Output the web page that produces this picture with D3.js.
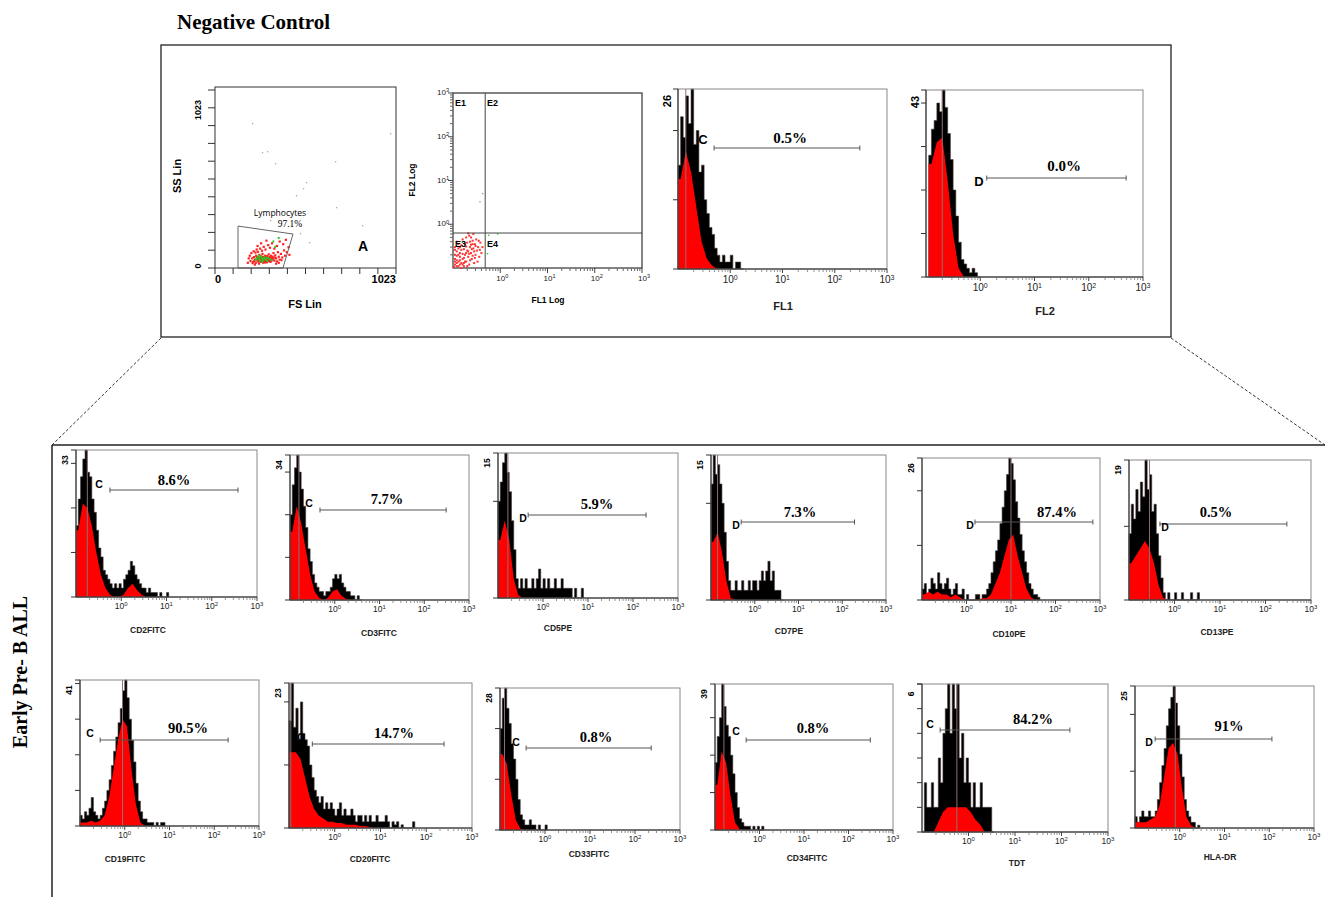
<!DOCTYPE html>
<html>
<head>
<meta charset="utf-8">
<script src="https://cdn.jsdelivr.net/npm/d3@7"></script>
<style>
  body { margin: 0; background: #fff; }
  svg { display: block; }
</style>
</head>
<body>
<script>
// ---- data -------------------------------------------------------------

// scatter FS Lin / SS Lin (channel units 0..1023)
const scatterRed = [
  [200,40],[210,55],[215,35],[220,62],[225,48],[230,30],[232,70],[238,52],[240,40],[245,60],
  [248,25],[250,75],[252,45],[255,58],[258,35],[260,66],[262,50],[265,42],[268,80],[270,55],
  [272,30],[275,62],[278,47],[280,38],[283,70],[285,52],[288,60],[290,44],[293,33],[295,68],
  [298,55],[300,48],[303,78],[305,40],[308,62],[310,52],[313,35],[315,70],[318,58],[320,45],
  [325,65],[328,50],[330,85],[335,42],[338,60],[340,72],[345,55],[350,38],[355,90],[360,64],
  [365,48],[372,80],[380,60],[390,100],[196,70],[205,85],[212,28],[218,95],[228,88],[235,105],
  [242,92],[255,110],[265,98],[275,120],[285,105],[300,130],[310,115],[322,140],[335,110],[350,125],
  [365,150],[385,135],[400,160],[415,118],[290,155],[260,140],[240,125],[225,20],[190,55],[185,30],
  [345,25],[360,30],[375,45],[395,70],[405,90],[420,75],[222,40],[236,62],[246,36],[256,48],
  [266,64],[276,38],[286,44],[296,58],[306,50],[316,40],[326,56],[243,50],[263,57],[283,32]
];
const scatterGreen = [
  [230,45],[240,58],[250,50],[255,40],[260,62],[265,55],[270,45],[275,52],[280,60],[285,48],
  [290,55],[245,65],[268,35],[300,58],[310,50],[320,44],[252,70],[235,52],[295,40],[340,120],
  [360,170],[330,150]
];
const scatterGray = [
  [209,820],[265,656],[294,661],[339,593],[678,604],[457,412],[497,452],[514,486],[684,345],
  [831,243],[531,147],[989,763],[480,198],[311,271]
];
const lymphGate = [[130,237],[441,192],[384,0],[130,0]];

// FL1 Log / FL2 Log dot plot
const dotRed = [
  [0.11,0.12],[0.12,0.15],[0.13,0.11],[0.14,0.18],[0.11,0.2],[0.15,0.13],[0.16,0.16],[0.12,0.24],
  [0.13,0.28],[0.17,0.11],[0.18,0.2],[0.19,0.14],[0.2,0.25],[0.14,0.22],[0.11,0.3],[0.15,0.33],
  [0.21,0.18],[0.22,0.12],[0.23,0.3],[0.24,0.22],[0.25,0.16],[0.18,0.36],[0.27,0.28],[0.28,0.13],
  [0.3,0.2],[0.26,0.42],[0.29,0.35],[0.32,0.25],[0.12,0.4],[0.16,0.45],[0.2,0.38],[0.24,0.5],
  [0.34,0.3],[0.36,0.18],[0.31,0.45],[0.22,0.55],[0.38,0.38],[0.4,0.22],[0.13,0.35],[0.17,0.27],
  [0.19,0.31],[0.11,0.16],[0.14,0.12],[0.16,0.21],[0.21,0.24],[0.23,0.15],[0.26,0.19],[0.12,0.19],
  [0.15,0.26],[0.18,0.14],[0.2,0.11],[0.25,0.27],[0.28,0.24],[0.33,0.14],[0.35,0.42],[0.42,0.3],
  [0.27,0.6],[0.19,0.5],[0.23,0.4],[0.3,0.32],[0.13,0.14],[0.17,0.17],[0.22,0.21],[0.11,0.26],
  [0.14,0.3],[0.24,0.34],[0.29,0.17],[0.37,0.26],[0.21,0.62],[0.26,0.35],[0.105,0.105],[0.12,0.11],
  [0.15,0.1],[0.11,0.14],[0.13,0.2],[0.17,0.13],[0.19,0.22],[0.14,0.15],[0.16,0.12],[0.12,0.13]
];
const dotGreen = [[0.55,0.58],[0.6,0.32],[0.52,0.22],[0.85,0.62]];
const dotBlue = [[0.41,5.2],[0.36,3.4]];
const quadCut = [0.48, 0.63];
const quadLabels = ['E1', 'E2', 'E3', 'E4'];

// histograms: black = raw envelope (bins of 0.05 decade), red = smoothed core (bins of 0.1 decade)
const histNames   = ['FL1','FL2','CD2FITC','CD3FITC','CD5PE','CD7PE','CD10PE','CD13PE',
                     'CD19FITC','CD20FITC','CD33FITC','CD34FITC','TDT','HLA-DR'];
const histMax     = [26,43,33,34,15,15,26,19,41,23,28,39,6,25];
const histPercent = ['0.5%','0.0%','8.6%','7.7%','5.9%','7.3%','87.4%','0.5%',
                     '90.5%','14.7%','0.8%','0.8%','84.2%','91%'];
const histLetter  = ['C','D','C','C','D','D','D','D','C','C','C','C','C','D'];
const histGates   = [[-0.31,2.48],[0.12,2.69],[-0.25,2.58],[-0.33,2.49],[-0.33,2.29],[-0.31,2.28],
                     [0.19,2.84],[-0.32,2.47],[-0.55,2.31],[-0.49,2.39],[-0.42,2.36],[-0.30,2.49],
                     [-0.61,2.18],[-0.55,2.06]];
const histMarker  = [-0.85,-0.7,-0.75,-0.8,-0.78,-0.85,1.0,-0.55,-0.05,-0.96,-0.9,-0.8,-0.25,-0.1];
const histStart   = [-1,-0.95,-1,-1,-1,-1,-1,-1,-1,-1,-1,-1,-1,-1];

const fl1Black  = [15,22,19,25,21,26,18,20,14,15,10,8,6,5,3,2,1,2,1,1,2,0,1,1,0];
const fl1Red    = [13,17,14,9,4,1.5,0.5,0];
const fl2Black  = [28,34,36,40,38,43,39,33,27,20,14,8,4,3,2,1,2,1,0];
const fl2Red    = [26,31,32,22,10,2,0];
const cd2Black  = [16,22,27,31,33,28,27,22,19,15,11,9,6,5,4,3,2,3,2,3,2,4,5,6,8,7,5,4,3,2,2,1,2,1,1,1,0,1,0,0,1];
const cd2Red    = [15,21,20,16,10,5,2,0.5,0,0,0.5,2,3,1.5,0.5,0];
const cd3Black  = [20,27,31,34,30,26,22,17,12,9,6,4,3,2,2,1,2,2,3,5,6,5,6,4,3,2,2,1,1,0,1,0];
const cd3Red    = [16,22,18,12,6,2,0.5,0,0.5,2,2.5,1,0.3,0];
const cd5Black  = [10,12,14,15,13,11,8,5,2,1,2,1,2,1,1,2,1,2,3,1,2,1,2,1,1,2,1,1,2,1,1,1,1,0,1,0,0,1];
const cd5Red    = [6,8,6,2,0.3,0];
const cd7Black  = [12,15,13,14,12,10,7,4,2,1,1,2,1,1,2,1,1,2,1,2,2,1,2,3,2,3,4,2,3,1,1,1,0];
const cd7Red    = [6,7,5,2,0.2,0];
const cd10Black = [2,3,1,2,4,3,2,5,3,2,3,4,2,1,2,3,1,1,2, 0,1,0,0,0,1,1,0,1,
                   1,2,3,5,7,9,11,14,17,20,23,26,25,22,18,15,12,9,7,5,3,2,1,1,0.5];
const cd10Red   = [1,1.5,1,1.5,1,1,0.5,1,0.5,0, 0,0,0,0.3, 0.3,1,3,5,8,11,12,8,5,2,0.5,0];
const cd13Black = [9,13,11,15,12,16,14,19,15,17,12,13,9,6,3,1,0,1,0,0,1,0,0,1,0,0,0,1,0,0,1];
const cd13Red   = [5,6,7,8,7,5,2,0.3,0];
const cd19Black = [3,2,4,3,5,8,4,3,2,3,
                   5,7,10,13,17,21,25,29,33,38,41,36,30,24,18,12,7,4,2,2,1,1,1,0,1,0,1,1];
const cd19Red   = [1,1,1.5,1,1.5,3,8,16,24,30,28,16,6,1,0];
const cd20Black = [17,23,16,19,14,20,15,14,13,10,8,6,5,4,5,3,4,3,4,3,2,3,4,2,3,2,2,3,2,1,
                   2,2,1,2,1,2,1,1,2,1,1,1,2,1,0,1,0.5,1,0,0.5,0,0,0,0,1];
const cd20Red   = [12,12,11,8,5,3,2,1.5,1,1,0.8,0.8,0.5,0.5,0.5,0.3,0.3,0.2,0];
const cd33Black = [20,26,28,24,21,17,14,10,6,3,2,1,1,2,1,1,0,1,0,0,1];
const cd33Red   = [15,13,7,2,0.3,0];
const cd34Black = [18,25,30,39,33,28,25,20,15,10,6,3,2,1,1,1,0,1,0,1,0,1];
const cd34Red   = [12,21,18,9,2,0.3,0];
const tdtBlack  = [0,2,1,1,2,1,1,3,2,4,5,6,4,6,5,6,3,4,2,3,2,1,2,1,1,2,1,1,1,1,0];
const tdtRed    = [0,0,0,0.4,0.8,1,1,1,1,1,0.8,0.5,0.3,0];
const hlaBlack  = [2,1,2,3,2,2,3,2,
                   2,3,5,8,11,14,18,21,23,25,22,18,13,9,5,3,2,1,1,0,0.5];
const hlaRed    = [1,1,1,1.5,2,4,9,14,15,13,7,2,0.5,0];

const histBlack = [fl1Black,fl2Black,cd2Black,cd3Black,cd5Black,cd7Black,cd10Black,cd13Black,
                   cd19Black,cd20Black,cd33Black,cd34Black,tdtBlack,hlaBlack];
const histRed   = [fl1Red,fl2Red,cd2Red,cd3Red,cd5Red,cd7Red,cd10Red,cd13Red,
                   cd19Red,cd20Red,cd33Red,cd34Red,tdtRed,hlaRed];

// ---- layout -----------------------------------------------------------
// box: x0,x1,y0,y1 ; bar: y of gate ; let: letter centre ; pct: percent centre ; lab: axis name centre
const histLayout = [
  {box:[678,887,89,269],  bar:148, let:[703,139],  pct:[790,138],  lab:[783,306],  big:true},
  {box:[926,1143,90,277], bar:178, let:[979,181],  pct:[1064,166], lab:[1045,311], big:true},
  {box:[76,257,450,597],  bar:490, let:[99,484],   pct:[174,480],  lab:[148,629]},
  {box:[290,469,455,600], bar:510, let:[309,503],  pct:[387,499],  lab:[379,632]},
  {box:[498,678,453,598], bar:515, let:[523,518],  pct:[597,504],  lab:[558,627]},
  {box:[711,886,455,600], bar:522, let:[736,525],  pct:[800,512],  lab:[789,630]},
  {box:[922,1100,458,600],bar:522, let:[970,525],  pct:[1057,512], lab:[1009,633]},
  {box:[1129,1311,460,600],bar:524,let:[1165,527], pct:[1216,512], lab:[1217,631]},
  {box:[80,259,680,826],  bar:740, let:[90,733],   pct:[188,728],  lab:[125,858]},
  {box:[289,472,683,828], bar:744, let:[301,737],  pct:[394,733],  lab:[370,858]},
  {box:[500,680,688,830], bar:748, let:[516,742],  pct:[596,737],  lab:[589,853]},
  {box:[715,893,684,830], bar:740, let:[736,731],  pct:[813,728],  lab:[807,857]},
  {box:[922,1108,684,832],bar:730, let:[930,724],  pct:[1033,719], lab:[1017,862]},
  {box:[1135,1314,686,828],bar:739,let:[1149,742], pct:[1229,726], lab:[1220,856]}
];

const SANS = "'Liberation Sans', Arial, sans-serif";
const SERIF = "'Liberation Serif', 'Times New Roman', serif";

const svg = d3.select('body').append('svg')
  .attr('width', 1325)
  .attr('height', 897);

svg.append('rect').attr('width', 1325).attr('height', 897).attr('fill', '#fff');

// ---- frame, title, connectors ------------------------------------------
svg.append('text')
  .attr('x', 177).attr('y', 29)
  .attr('font-family', SERIF).attr('font-weight', 'bold').attr('font-size', 21)
  .text('Negative Control');

svg.append('rect')
  .attr('x', 161).attr('y', 45).attr('width', 1010).attr('height', 292)
  .attr('fill', 'none').attr('stroke', '#222').attr('stroke-width', 1.3);

svg.append('line').attr('x1', 161).attr('y1', 338).attr('x2', 52).attr('y2', 445)
  .attr('stroke', '#333').attr('stroke-dasharray', '3,2');
svg.append('line').attr('x1', 1171).attr('y1', 338).attr('x2', 1325).attr('y2', 445)
  .attr('stroke', '#333').attr('stroke-dasharray', '3,2');

svg.append('line').attr('x1', 52).attr('y1', 445).attr('x2', 1325).attr('y2', 445)
  .attr('stroke', '#222').attr('stroke-width', 1.5);
svg.append('line').attr('x1', 52).attr('y1', 445).attr('x2', 52).attr('y2', 897)
  .attr('stroke', '#222').attr('stroke-width', 1.5);

svg.append('text')
  .attr('transform', 'translate(27,672) rotate(-90)')
  .attr('text-anchor', 'middle')
  .attr('font-family', SERIF).attr('font-weight', 'bold').attr('font-size', 20)
  .text('Early Pre- B ALL');

// helper: 10^n label
function powLabel(sel, n) {
  sel.text('10');
  sel.append('tspan').attr('dy', '-0.45em').attr('font-size', '0.7em').text(n);
}

// ---- scatter FS/SS -------------------------------------------------------
(function () {
  const x = d3.scaleLinear().domain([0, 1023]).range([215, 396]);
  const y = d3.scaleLinear().domain([0, 1023]).range([268, 87]);
  const g = svg.append('g');

  g.append('rect').attr('x', 215).attr('y', 87).attr('width', 181).attr('height', 181)
    .attr('fill', 'none').attr('stroke', '#333').attr('stroke-width', 1);

  d3.range(0, 11).forEach(i => {
    const yy = 268 - i * 17.8;
    g.append('line').attr('x1', 208).attr('x2', 215).attr('y1', yy).attr('y2', yy).attr('stroke', '#333');
    const xx = 215 + i * 18.1;
    g.append('line').attr('x1', xx).attr('x2', xx).attr('y1', 268).attr('y2', 274).attr('stroke', '#333');
  });

  g.selectAll('.gray').data(scatterGray).join('rect')
    .attr('x', d => x(d[0])).attr('y', d => y(d[1])).attr('width', 1.3).attr('height', 1.3)
    .attr('fill', '#aaa');
  g.selectAll('.red').data(scatterRed).join('rect')
    .attr('x', d => x(d[0]) - 1).attr('y', d => y(d[1]) - 1).attr('width', 2.2).attr('height', 2.2)
    .attr('fill', '#f22');
  g.selectAll('.green').data(scatterGreen).join('rect')
    .attr('x', d => x(d[0]) - 1).attr('y', d => y(d[1]) - 1).attr('width', 2).attr('height', 2)
    .attr('fill', '#2c2');

  g.append('polygon')
    .attr('points', lymphGate.map(p => x(p[0]) + ',' + y(p[1])).join(' '))
    .attr('fill', 'none').attr('stroke', '#555').attr('stroke-width', 0.9);

  g.append('text').attr('x', 280).attr('y', 216).attr('text-anchor', 'middle')
    .attr('font-family', "'Open Sans', sans-serif").attr('font-size', 8.5).text('Lymphocytes');
  g.append('text').attr('x', 290).attr('y', 227).attr('text-anchor', 'middle')
    .attr('font-family', SERIF).attr('font-size', 9.5).text('97.1%');
  g.append('text').attr('x', 363).attr('y', 251).attr('text-anchor', 'middle')
    .attr('font-family', SANS).attr('font-weight', 'bold').attr('font-size', 14).text('A');

  g.append('text').attr('transform', 'translate(201,110) rotate(-90)').attr('text-anchor', 'middle')
    .attr('font-family', SANS).attr('font-weight', 'bold').attr('font-size', 9).text('1023');
  g.append('text').attr('transform', 'translate(201,266) rotate(-90)').attr('text-anchor', 'middle')
    .attr('font-family', SANS).attr('font-weight', 'bold').attr('font-size', 9).text('0');
  g.append('text').attr('x', 218).attr('y', 283).attr('text-anchor', 'middle')
    .attr('font-family', SANS).attr('font-weight', 'bold').attr('font-size', 11).text('0');
  g.append('text').attr('x', 396).attr('y', 283).attr('text-anchor', 'end')
    .attr('font-family', SANS).attr('font-weight', 'bold').attr('font-size', 11).text('1023');
  g.append('text').attr('transform', 'translate(181,176) rotate(-90)').attr('text-anchor', 'middle')
    .attr('font-family', SANS).attr('font-weight', 'bold').attr('font-size', 11).text('SS Lin');
  g.append('text').attr('x', 305).attr('y', 308).attr('text-anchor', 'middle')
    .attr('font-family', SANS).attr('font-weight', 'bold').attr('font-size', 11).text('FS Lin');
})();

// ---- FL1 / FL2 dot plot ---------------------------------------------------
(function () {
  const x = d3.scaleLog().domain([0.1, 1000]).range([453, 642]);
  const y = d3.scaleLog().domain([0.1, 1000]).range([268, 93]);
  const g = svg.append('g');

  g.append('rect').attr('x', 453).attr('y', 93).attr('width', 189).attr('height', 175)
    .attr('fill', 'none').attr('stroke', '#333').attr('stroke-width', 1.2);

  const minor = [];
  [0.1, 1, 10, 100].forEach(d => d3.range(2, 10).forEach(k => minor.push(d * k)));
  minor.forEach(v => {
    g.append('line').attr('x1', x(v)).attr('x2', x(v)).attr('y1', 268).attr('y2', 271).attr('stroke', '#666');
    g.append('line').attr('x1', 450).attr('x2', 453).attr('y1', y(v)).attr('y2', y(v)).attr('stroke', '#666');
  });
  [1, 10, 100, 1000].forEach((v, i) => {
    g.append('line').attr('x1', x(v)).attr('x2', x(v)).attr('y1', 268).attr('y2', 273).attr('stroke', '#444');
    g.append('line').attr('x1', 448).attr('x2', 453).attr('y1', y(v)).attr('y2', y(v)).attr('stroke', '#444');
    g.append('text').attr('x', x(v) + 2).attr('y', 281).attr('text-anchor', 'middle')
      .attr('font-family', SANS).attr('font-size', 8).attr('fill', '#222').call(powLabel, i);
    g.append('text').attr('x', 449).attr('y', y(v) + 2).attr('text-anchor', 'end')
      .attr('font-family', SANS).attr('font-size', 8).attr('fill', '#222').call(powLabel, i);
  });

  g.selectAll('.r').data(dotRed).join('rect')
    .attr('x', d => x(d[0]) - 1).attr('y', d => y(d[1]) - 1).attr('width', 2).attr('height', 2)
    .attr('fill', '#f33');
  g.selectAll('.gr').data(dotGreen).join('rect')
    .attr('x', d => x(d[0])).attr('y', d => y(d[1])).attr('width', 1.4).attr('height', 1.4)
    .attr('fill', '#3c3');
  g.selectAll('.b').data(dotBlue).join('rect')
    .attr('x', d => x(d[0])).attr('y', d => y(d[1])).attr('width', 1.4).attr('height', 1.4)
    .attr('fill', '#99c');

  g.append('line').attr('x1', x(quadCut[0])).attr('x2', x(quadCut[0])).attr('y1', 93).attr('y2', 268)
    .attr('stroke', '#444');
  g.append('line').attr('x1', 453).attr('x2', 642).attr('y1', y(quadCut[1])).attr('y2', y(quadCut[1]))
    .attr('stroke', '#444');

  const qPos = [[455, 106], [487, 106], [455, 247], [487, 247]];
  quadLabels.forEach((t, i) => {
    g.append('text').attr('x', qPos[i][0]).attr('y', qPos[i][1])
      .attr('font-family', SANS).attr('font-weight', 'bold').attr('font-size', 9).text(t);
  });

  g.append('text').attr('transform', 'translate(415,180) rotate(-90)').attr('text-anchor', 'middle')
    .attr('font-family', SANS).attr('font-weight', 'bold').attr('font-size', 8.5).text('FL2 Log');
  g.append('text').attr('x', 548).attr('y', 303).attr('text-anchor', 'middle')
    .attr('font-family', SANS).attr('font-weight', 'bold').attr('font-size', 8.5).text('FL1 Log');
})();

// ---- histograms --------------------------------------------------------
function drawHist(i) {
  const L = histLayout[i];
  const [x0, x1, y0, y1] = L.box;
  const max = histMax[i];
  const big = !!L.big;
  const x = d3.scaleLog().domain([0.1, 1000]).range([x0, x1]);
  const y = d3.scaleLinear().domain([0, max]).range([y1, y0]);
  const g = svg.append('g');
  const xe = e => x(Math.pow(10, e));

  // raw envelope as steps
  const bPts = histBlack[i].map((v, k) => ({ e: histStart[i] + k * 0.05, v: v }));
  bPts.push({ e: histStart[i] + histBlack[i].length * 0.05, v: 0 });
  const stepArea = d3.area()
    .curve(d3.curveStepAfter)
    .x(d => xe(d.e)).y0(y1).y1(d => y(Math.min(d.v, max)));
  g.append('path').datum(bPts)
    .attr('d', stepArea).attr('fill', '#000').attr('stroke', '#4a3a3a').attr('stroke-width', 0.6);

  // smoothed core through bin centres
  const rArr = histRed[i];
  const rPts = [{ e: histStart[i], v: rArr[0] }]
    .concat(rArr.map((v, k) => ({ e: histStart[i] + (k + 0.5) * 0.1, v: v })));
  rPts.push({ e: histStart[i] + rArr.length * 0.1, v: 0 });
  const lineArea = d3.area()
    .x(d => xe(d.e)).y0(y1).y1(d => y(Math.min(d.v, max)));
  g.append('path').datum(rPts).attr('d', lineArea).attr('fill', '#f00');

  // cursor line
  const mx = xe(histMarker[i]);
  g.append('line').attr('x1', mx).attr('x2', mx).attr('y1', y0).attr('y2', y1)
    .attr('stroke', '#8a7070').attr('stroke-width', 1);

  // frame
  g.append('rect').attr('x', x0).attr('y', y0).attr('width', x1 - x0).attr('height', y1 - y0)
    .attr('fill', 'none').attr('stroke', '#888').attr('stroke-width', 1);
  g.append('line').attr('x1', x0).attr('x2', x1).attr('y1', y1).attr('y2', y1).attr('stroke', '#222');
  g.append('line').attr('x1', x0).attr('x2', x0).attr('y1', y0).attr('y2', y1).attr('stroke', '#222');

  // y ticks
  const step = max >= 10 ? 10 : 1;
  d3.range(0, max + 0.001, step).forEach(v => {
    g.append('line').attr('x1', x0 - 5).attr('x2', x0).attr('y1', y(v)).attr('y2', y(v)).attr('stroke', '#333');
  });
  g.append('line').attr('x1', x0 - 5).attr('x2', x0).attr('y1', y0).attr('y2', y0).attr('stroke', '#333');
  g.append('text')
    .attr('transform', 'translate(' + (x0 - (big ? 7 : 8)) + ',' + (y0 + (big ? 12 : 10)) + ') rotate(-90)')
    .attr('text-anchor', 'middle')
    .attr('font-family', SANS).attr('font-weight', 'bold').attr('font-size', big ? 11 : 8.5)
    .text(max);

  // x ticks
  [0.1, 1, 10, 100].forEach(d => d3.range(2, 10).forEach(k => {
    const xx = x(d * k);
    g.append('line').attr('x1', xx).attr('x2', xx).attr('y1', y1).attr('y2', y1 + 3)
      .attr('stroke', '#777').attr('stroke-width', 0.8);
  }));
  [1, 10, 100, 1000].forEach((v, k) => {
    g.append('line').attr('x1', x(v)).attr('x2', x(v)).attr('y1', y1).attr('y2', y1 + 4).attr('stroke', '#444');
    g.append('text').attr('x', x(v)).attr('y', y1 + (big ? 14 : 12)).attr('text-anchor', 'middle')
      .attr('font-family', SANS).attr('font-size', big ? 10 : 8.5).attr('fill', '#222').call(powLabel, k);
  });

  // gate bar
  const ga = xe(histGates[i][0]);
  const gb = xe(histGates[i][1]);
  g.append('line').attr('x1', ga).attr('x2', gb).attr('y1', L.bar).attr('y2', L.bar)
    .attr('stroke', '#555').attr('stroke-width', 1);
  [ga, gb].forEach(v => {
    g.append('line').attr('x1', v).attr('x2', v).attr('y1', L.bar - 2.5).attr('y2', L.bar + 2.5)
      .attr('stroke', '#555');
  });
  g.append('text').attr('x', L.let[0]).attr('y', L.let[1] + (big ? 5 : 4)).attr('text-anchor', 'middle')
    .attr('font-family', SANS).attr('font-weight', 'bold').attr('font-size', big ? 13 : 10.5)
    .text(histLetter[i]);
  g.append('text').attr('x', L.pct[0]).attr('y', L.pct[1] + 5).attr('text-anchor', 'middle')
    .attr('font-family', SERIF).attr('font-weight', 'bold').attr('font-size', big ? 15 : 14.5)
    .text(histPercent[i]);

  // axis name
  g.append('text').attr('x', L.lab[0]).attr('y', L.lab[1] + 4).attr('text-anchor', 'middle')
    .attr('font-family', SANS).attr('font-weight', 'bold').attr('font-size', big ? 11 : 8.5)
    .attr('fill', '#222')
    .text(histNames[i]);
}

histNames.forEach((n, i) => drawHist(i));
</script>
</body>
</html>
